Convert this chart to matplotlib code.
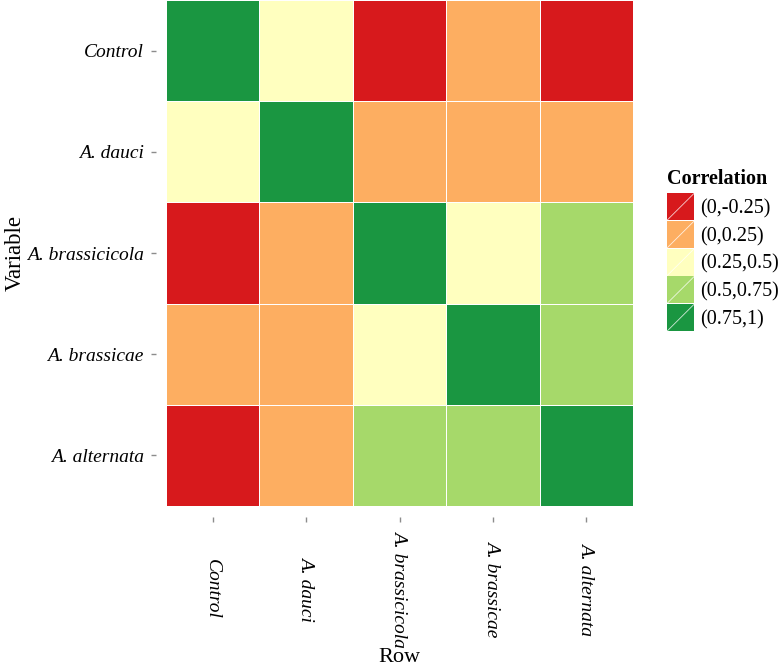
import numpy as np
import matplotlib
matplotlib.use('Agg')
import matplotlib.pyplot as plt
from matplotlib.colors import ListedColormap
from matplotlib.patches import Rectangle
from matplotlib.legend_handler import HandlerPatch
from matplotlib.lines import Line2D

plt.rcParams['font.family'] = ['Liberation Serif', 'DejaVu Serif']

#---------------------------------------------------------
# Dados
species = ['Control', 'A. dauci', 'A. brassicicola', 'A. brassicae', 'A. alternata']
classes = ['(0,-0.25)', '(0,0.25)', '(0.25,0.5)', '(0.5,0.75)', '(0.75,1)']
colors = ['#d7191c', '#fdae61', '#ffffbf', '#a6d96a', '#1a9641']

# indice da classe de correlacao (linha = Variable, coluna = Row)
corr_class = np.array([
    [4, 2, 0, 1, 0],
    [2, 4, 1, 1, 1],
    [0, 1, 4, 2, 3],
    [1, 1, 2, 4, 3],
    [0, 1, 3, 3, 4],
])

#---------------------------------------------------------
fig = plt.figure(figsize=(7.78, 6.72), dpi=100)
W, H = 778, 672
ax = fig.add_axes([166 / W, (H - 506) / H, 467 / W, 506 / H])

cmap = ListedColormap(colors)
n = len(species)
ax.pcolormesh(np.arange(n + 1), np.arange(n + 1), corr_class, cmap=cmap,
              vmin=-0.5, vmax=len(colors) - 0.5, edgecolors='white', linewidth=0.4)
ax.set_xlim(0, n)
ax.set_ylim(n, 0)

for s in ax.spines.values():
    s.set_visible(False)
ax.spines['bottom'].set_position(('outward', 8))
ax.spines['left'].set_position(('outward', 7.5))
ax.tick_params(axis='x', length=3.5, width=1, color='#8c8c8c', pad=48)
ax.tick_params(axis='y', length=3.5, width=1, color='#8c8c8c', pad=5)

ax.set_xticks(np.arange(n) + 0.5)
ax.set_yticks(np.arange(n) + 0.5)
ax.set_xticklabels(species, fontsize=14, style='italic', rotation=270, va='center')
ax.set_yticklabels(species, fontsize=14, style='italic')

ax.set_xlabel('Row', fontsize=16)
ax.set_ylabel('Variable', fontsize=16.5)
ax.xaxis.set_label_coords(0.5, -0.28)
ax.yaxis.set_label_coords(-0.30, 0.5)


# Legenda com a barra diagonal branca
class SlashHandler(HandlerPatch):
    def create_artists(self, legend, orig_handle, xdescent, ydescent,
                       width, height, fontsize, trans):
        r = Rectangle((-xdescent, -ydescent), width, height,
                      facecolor=orig_handle.get_facecolor(), edgecolor='none',
                      transform=trans)
        ln = Line2D([-xdescent, -xdescent + width], [-ydescent, -ydescent + height],
                    color='white', linewidth=0.6, alpha=0.8, transform=trans)
        return [r, ln]


handles = [Rectangle((0, 0), 1, 1, facecolor=c) for c in colors]
leg = fig.legend(handles, classes, loc='upper left', bbox_to_anchor=(653 / W, 1 - 155 / H),
                 frameon=False, fontsize=14.5, title='Correlation',
                 title_fontproperties={'weight': 'bold', 'size': 14.5},
                 handlelength=1.345, handleheight=1.68, labelspacing=0.04,
                 handletextpad=0.3, borderpad=0.2,
                 handler_map={Rectangle: SlashHandler()})
leg._legend_box.align = 'left'
leg._legend_box.sep = 3

plt.savefig('out.png', dpi=100)
